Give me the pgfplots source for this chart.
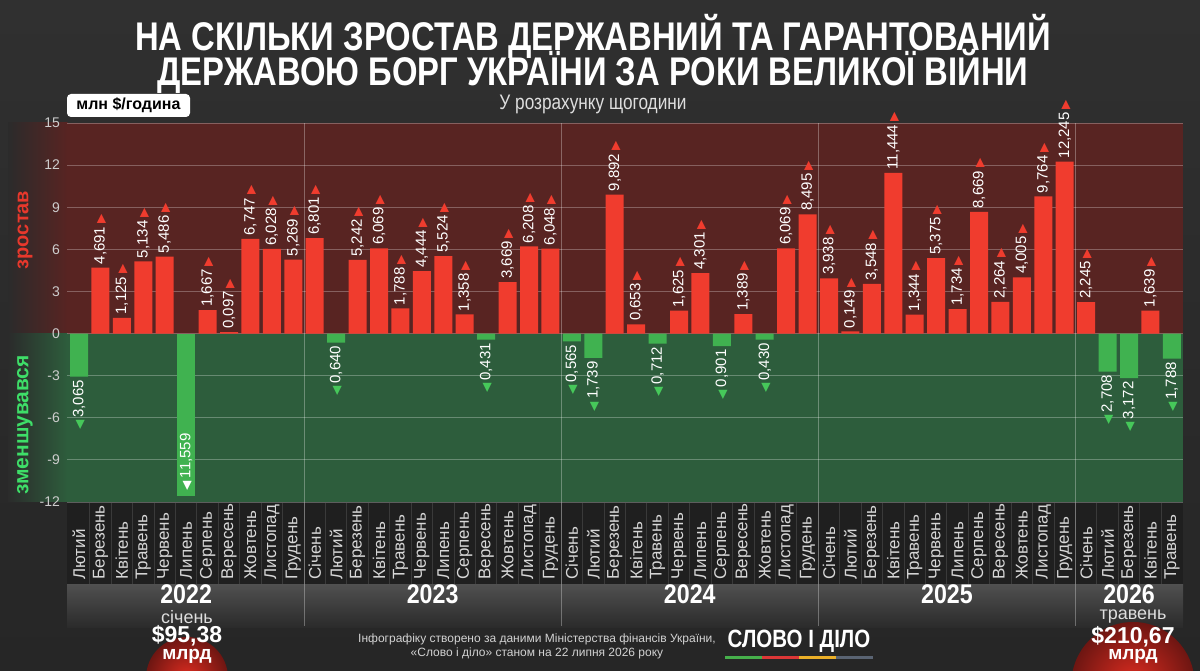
\documentclass[border=0pt]{standalone}
\usepackage{pgfplots}
\pgfplotsset{compat=1.18}
\usepackage{pgfplotstable}
\usepackage{fontspec}
\setmainfont{Liberation Sans}
\newfontfamily\condfont{Liberation Sans}[FakeStretch=0.82]
\newfontfamily\yearfont{Liberation Sans}[FakeStretch=0.86]
\newfontfamily\dejavu{DejaVu Sans}
\definecolor{bgtop}{RGB}{48,48,48}
\definecolor{bgbot}{RGB}{38,38,38}
\definecolor{bg}{RGB}{43,43,43}
\definecolor{redband}{RGB}{88,36,34}
\definecolor{greenband}{RGB}{45,93,60}
\definecolor{barred}{RGB}{240,60,46}
\definecolor{bargreen}{RGB}{64,178,80}
\definecolor{trigreen}{RGB}{70,200,90}
\definecolor{labred}{RGB}{232,56,44}
\definecolor{labgreen}{RGB}{62,222,104}
\definecolor{ticklab}{RGB}{205,205,205}
\definecolor{monthrow}{RGB}{31,31,31}
\definecolor{monthtxt}{RGB}{215,215,215}
\definecolor{lighttxt}{RGB}{222,222,222}
\definecolor{foottxt}{RGB}{210,210,210}
\definecolor{yeartop}{RGB}{80,80,80}
\definecolor{semiin}{RGB}{222,44,32}
\definecolor{semiout}{RGB}{110,22,18}
\definecolor{logog}{RGB}{70,175,75}
\definecolor{logor}{RGB}{220,55,55}
\definecolor{logoy}{RGB}{235,175,40}
\definecolor{logob}{RGB}{90,100,115}

% positive months (index 0 = Feb 2022 ... 51 = May 2026)
\pgfplotstableread{
i v
1 4.691
2 1.125
3 5.134
4 5.486
6 1.667
7 0.097
8 6.747
9 6.028
10 5.269
11 6.801
13 5.242
14 6.069
15 1.788
16 4.444
17 5.524
18 1.358
20 3.669
21 6.208
22 6.048
25 9.892
26 0.653
28 1.625
29 4.301
31 1.389
33 6.069
34 8.495
35 3.938
36 0.149
37 3.548
38 11.444
39 1.344
40 5.375
41 1.734
42 8.669
43 2.264
44 4.005
45 9.764
46 12.245
47 2.245
50 1.639
}\postab

\pgfplotstableread{
i v
0 -3.065
12 -0.640
19 -0.431
23 -0.565
24 -1.739
27 -0.712
30 -0.901
32 -0.430
48 -2.708
49 -3.172
51 -1.788
}\negtab

\newcommand\uptri{{\dejavu\fontsize{6}{6}\selectfont\textcolor{barred}{▶}}}
\newcommand\dntri{{\dejavu\fontsize{6}{6}\selectfont\textcolor{trigreen}{◀}}}
\newcommand\wtri{{\dejavu\fontsize{6}{6}\selectfont\textcolor{white}{◀}}}

\begin{document}
\begin{tikzpicture}[x=0.5pt,y=0.5pt]
\clip (0,0) rectangle (1200,670);
\shade[top color=bgtop, bottom color=bgbot] (0,0) rectangle (1200,670);

% bands
\fill[redband] (67,670-123) rectangle (1183,670-334);
\fill[greenband] (67,670-334) rectangle (1183,670-502);
\shade[left color=bg, right color=redband] (8,670-123) rectangle (67.5,670-334);
\shade[left color=bg, right color=greenband] (8,670-334) rectangle (67.5,670-502);

% month row and year row
\fill[monthrow] (67,670-502) rectangle (1183,670-584);
\foreach \k in {0,...,50} {
  \draw[color=white, opacity=0.12, line width=0.5pt] ({79+(\k+0.5)*21.43},670-503) -- ({79+(\k+0.5)*21.43},670-584);
}
\shade[top color=yeartop, bottom color=bg] (67,670-584) rectangle (1183,670-627);

% semicircles
\shade[inner color=semiin, outer color=semiout] (187,670-678) circle (41);
\shade[inner color=semiin, outer color=semiout] (1133,670-683.5) circle (61.5);

\begin{axis}[
  at={(33.5pt,84pt)}, anchor=south west,
  scale only axis, width=558pt, height=189.5pt,
  xmin=-0.56, xmax=51.52, ymin=-12, ymax=15,
  ytick={-12,-9,-6,-3,0,3,6,9,12,15},
  xtick=\empty,
  axis line style={draw=none},
  major tick length=0pt,
  ymajorgrids, grid style={white, opacity=0.28, line width=0.5pt},
  /pgf/number format/assume math mode=true,
  yticklabel style={font=\fontsize{7}{8}\selectfont, text=ticklab},
  clip=false,
]
\addplot[ybar, bar width=9pt, bar shift=0pt, fill=barred, draw=none,
  point meta=explicit,
  nodes near coords={\pgfmathprintnumber[fixed,fixed zerofill,precision=3,use comma]{\pgfplotspointmeta}\hspace{1.5pt}\uptri},
  every node near coord/.append style={rotate=90, anchor=west, font=\fontsize{7.5}{8}\selectfont, text=white, inner sep=1.5pt}]
  table[x=i, y=v, meta=v] {\postab};
\addplot[ybar, bar width=9pt, bar shift=0pt, fill=bargreen, draw=none,
  point meta=explicit,
  nodes near coords={\dntri\hspace{1.5pt}\pgfmathprintnumber[fixed,fixed zerofill,precision=3,use comma]{\pgfplotspointmeta}},
  every node near coord/.append style={rotate=90, anchor=east, font=\fontsize{7.5}{8}\selectfont, text=white, inner sep=1.5pt}]
  table[x=i, y=v, meta expr=-\thisrow{v}] {\negtab};
\addplot[ybar, bar width=9pt, bar shift=0pt, fill=bargreen, draw=none,
  point meta=explicit,
  nodes near coords={\wtri\hspace{1.5pt}\pgfmathprintnumber[fixed,fixed zerofill,precision=3,use comma]{\pgfplotspointmeta}},
  every node near coord/.append style={rotate=90, anchor=west, font=\fontsize{7.5}{8}\selectfont, text=white, inner xsep=2.5pt}]
  coordinates {(5,-11.559) [11.559]};
\end{axis}

% year separators
\foreach \xx in {10.5,22.5,34.5,46.5} {
  \draw[white, opacity=0.3, line width=0.5pt] ({79+\xx*21.43},670-123) -- ({79+\xx*21.43},670-626);
}

% month labels
\foreach \m [count=\k from 0] in {Лютий,Березень,Квітень,Травень,Червень,Липень,Серпень,Вересень,Жовтень,Листопад,Грудень,
  Січень,Лютий,Березень,Квітень,Травень,Червень,Липень,Серпень,Вересень,Жовтень,Листопад,Грудень,
  Січень,Лютий,Березень,Квітень,Травень,Червень,Липень,Серпень,Вересень,Жовтень,Листопад,Грудень,
  Січень,Лютий,Березень,Квітень,Травень,Червень,Липень,Серпень,Вересень,Жовтень,Листопад,Грудень,
  Січень,Лютий,Березень,Квітень,Травень} {
  \node[rotate=90, anchor=west, inner sep=0pt, font=\fontsize{8.5}{9}\selectfont, text=monthtxt] at ({79+\k*21.43},670-580) {\m};
}

% years
\foreach \yr/\c in {2022/5,2023/16.5,2024/28.5,2025/40.5,2026/49} {
  \node[anchor=base, font=\yearfont\bfseries\fontsize{13.5}{14}\selectfont, text=white] at ({79+\c*21.43},670-603) {\yr};
}

% title
\node[anchor=base, font=\condfont\bfseries\fontsize{20}{20}\selectfont, text=white] at (593,670-51) {НА СКІЛЬКИ ЗРОСТАВ ДЕРЖАВНИЙ ТА ГАРАНТОВАНИЙ};
\node[anchor=base, font=\condfont\bfseries\fontsize{20}{20}\selectfont, text=white] at (593,670-86) {ДЕРЖАВОЮ БОРГ УКРАЇНИ ЗА РОКИ ВЕЛИКОЇ ВІЙНИ};
\node[font=\condfont\fontsize{10.5}{11}\selectfont, text=lighttxt] at (593,670-104) {У розрахунку щогодини};

% unit box
\node[fill=white, rounded corners=2pt, minimum width=61.5pt, minimum height=11.5pt, inner sep=0pt, font=\bfseries\fontsize{8}{9}\selectfont, text=black] at (128.5,670-105.5) {млн \$/година};

% side labels
\node[rotate=90, font=\bfseries\fontsize{10}{10}\selectfont, text=labred] at (25,670-230) {зростав};
\node[rotate=90, font=\bfseries\fontsize{10.5}{10}\selectfont, text=labgreen] at (25,670-425) {зменшувався};

% bottom totals
\node[font=\fontsize{9}{9}\selectfont, text=lighttxt] at (187,670-617) {січень};
\node[font=\bfseries\fontsize{11.5}{12}\selectfont, text=white] at (187,670-636) {\$95,38};
\node[font=\bfseries\fontsize{9.5}{10}\selectfont, text=white] at (187,670-656) {млрд};
\node[font=\fontsize{9}{9}\selectfont, text=lighttxt] at (1133,670-617) {травень};
\node[font=\bfseries\fontsize{11.5}{12}\selectfont, text=white] at (1133,670-637) {\$210,67};
\node[font=\bfseries\fontsize{9.5}{10}\selectfont, text=white] at (1133,670-656) {млрд};

% footer
\node[font=\fontsize{6}{7}\selectfont, text=foottxt, align=center] at (537,670-646) {Інфографіку створено за даними Міністерства фінансів України,\\«Слово і діло» станом на 22 липня 2026 року};

% logo
\node[font=\condfont\bfseries\fontsize{12.5}{13}\selectfont, text=white] at (799,670-641) {СЛОВО І ДІЛО};
\fill[logog] (725,670-656) rectangle (762,670-659);
\fill[logor] (762,670-656) rectangle (799,670-659);
\fill[logoy] (799,670-656) rectangle (836,670-659);
\fill[logob] (836,670-656) rectangle (873,670-659);
\end{tikzpicture}
\end{document}
